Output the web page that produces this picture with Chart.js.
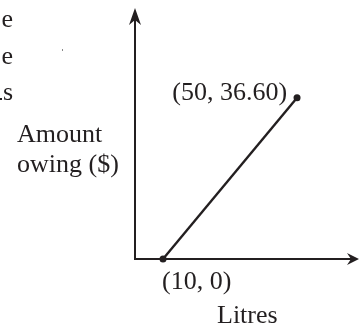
<!DOCTYPE html>
<html>
<head>
<meta charset="utf-8">
<script src="https://cdn.jsdelivr.net/npm/chart.js@4.4.1/dist/chart.umd.min.js"></script>
<style>
  html, body { margin: 0; padding: 0; background: #fff; }
  #wrap { position: relative; width: 359px; height: 326px; }
</style>
</head>
<body>
<div id="wrap"><canvas id="c"></canvas></div>
<script>
// data
const litres = [10, 50];
const amount = [0, 36.60];
const pointLabels = ['(10, 0)', '(50, 36.60)'];
const xTitle = 'Litres';
const yTitle = ['Amount', 'owing ($)'];
const sideText = ['e', 'e', 's']; // cut-off words at the left edge

const ink = '#231f20';
const font = '26px "Liberation Serif", "Times New Roman", serif';

const sketchPlugin = {
    id: 'sketch',
    afterDraw(chart) {
        const ctx = chart.ctx;
        const area = chart.chartArea;
        const xs = chart.scales.x, ys = chart.scales.y;
        const x0 = area.left, yb = area.bottom;
        ctx.save();
        ctx.fillStyle = ink;

        // arrow heads
        ctx.beginPath();
        ctx.moveTo(x0, 8);
        ctx.lineTo(x0 + 6, 25);
        ctx.lineTo(x0, 20);
        ctx.lineTo(x0 - 6, 25);
        ctx.closePath();
        ctx.fill();

        ctx.beginPath();
        ctx.moveTo(359, yb);
        ctx.lineTo(347, yb - 6);
        ctx.lineTo(351, yb);
        ctx.lineTo(347, yb + 6);
        ctx.closePath();
        ctx.fill();

        // point labels
        ctx.font = font;
        ctx.textBaseline = 'alphabetic';
        const p0x = xs.getPixelForValue(litres[0]), p0y = ys.getPixelForValue(amount[0]);
        const p1x = xs.getPixelForValue(litres[1]), p1y = ys.getPixelForValue(amount[1]);
        ctx.textAlign = 'left';
        ctx.fillText(pointLabels[0], p0x - 1, p0y + 30);
        ctx.textAlign = 'right';
        ctx.fillText(pointLabels[1], p1x - 10, p1y + 2);

        // axis titles
        ctx.textAlign = 'left';
        ctx.fillText(xTitle, 217, 323);
        ctx.fillText(yTitle[0], 17, 142);
        ctx.fillText(yTitle[1], 17, 172);

        // fragments of the surrounding page
        ctx.textAlign = 'right';
        sideText.forEach((t, i) => ctx.fillText(t, 13, 27 + i * 36.5));
        ctx.fillRect(0, 98, 2, 2);
        ctx.fillStyle = '#888';
        ctx.fillRect(62, 49, 1, 2);
        ctx.restore();
    }
};

const axisBase = {
    type: 'linear',
    grid: {display: false, drawTicks: false},
    ticks: {display: false},
    border: {display: true, color: ink, width: 2}
};

new Chart(document.getElementById('c'), {
    type: 'scatter',
    data: {
        datasets: [{
            data: litres.map((v, i) => ({x: v, y: amount[i]})),
            showLine: true,
            borderColor: ink,
            borderWidth: 2.4,
            pointRadius: 3.5,
            pointBackgroundColor: ink,
            pointBorderWidth: 0,
            clip: false
        }]
    },
    options: {
        responsive: true,
        maintainAspectRatio: false,
        animation: false,
        layout: {padding: {left: 135, right: 7, top: 12, bottom: 67}},
        scales: {
            x: {...axisBase, min: 1.64, max: 66.4},
            y: {...axisBase, min: 0, max: 56.1}
        },
        plugins: {legend: {display: false}, tooltip: {enabled: false}}
    },
    plugins: [sketchPlugin]
});
</script>
</body>
</html>
